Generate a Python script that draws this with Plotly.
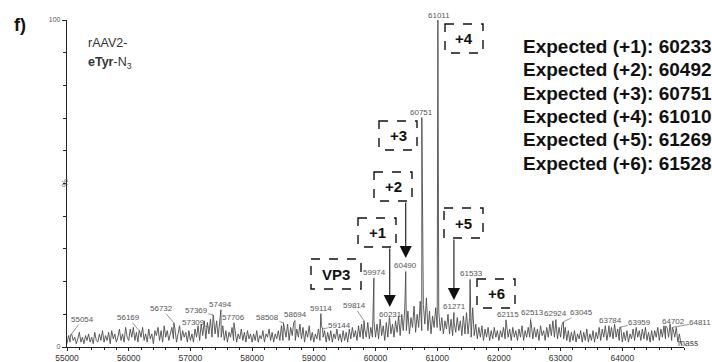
import plotly.graph_objects as go

# ---------------- data ----------------
# baseline noise of the deconvoluted spectrum, sampled every 25 Da from 55000
noise_start = 55000
noise_step = 25
noise_int = [
    1, 3.5, 1.5, 4, 2, 3, 1, 2.5, 4.5, 1.5, 3, 1, 3.5, 2, 4, 1.5, 3, 1, 4.5, 2,
    1.5, 4, 2, 5, 1.5, 3.5, 2, 4.5, 1, 5, 2.5, 4, 1.5, 3, 5.5, 2, 4, 1.5, 6, 3,
    2, 5.5, 3, 6, 2, 4.5, 1.5, 5, 3, 6, 2, 4, 1.5, 5.5, 2.5, 4, 1, 5, 3.5, 6,
    2, 5, 1.5, 6.5, 3, 5, 2, 4, 6, 2.5, 5.5, 1.5, 4, 6.5, 2, 5, 3, 4.5, 1.5, 5,
    2, 4, 1.5, 5.5, 3, 6.5, 2, 7, 3.5, 8, 2.5, 7.5, 4, 8.5, 3, 9, 4, 8, 3, 7,
    3, 6.5, 2, 5, 1.5, 4.5, 3, 6, 2, 5, 1.5, 4, 2.5, 5.5, 2, 4.5, 1.5, 5, 2.5, 4,
    1.5, 4, 2, 5, 1.5, 3.5, 2.5, 5, 1.5, 4, 3, 5.5, 2, 4.5, 1.5, 4, 2.5, 5, 2, 6.5,
    2, 5, 3, 7, 2, 6, 3.5, 7.5, 2, 5.5, 3, 7, 2.5, 6, 1.5, 5, 3, 6.5, 2, 4.5,
    1.5, 4, 2.5, 5.5, 2, 6.5, 3, 5, 1.5, 4.5, 2, 5, 1.5, 4, 2.5, 5.5, 2, 4, 1.5, 5,
    2, 4.5, 1.5, 5.5, 2.5, 6, 3, 5, 2, 6.5, 3, 7, 2.5, 5.5, 3, 7.5, 2.5, 6, 3, 8,
    3, 7, 2.5, 8.5, 3.5, 6.5, 2, 7.5, 3, 9, 4, 7, 3, 8, 4.5, 9.5, 3.5, 10, 5, 12,
    5, 11, 4, 9, 6, 12.5, 4.5, 10, 6, 14, 5, 13, 7, 15, 5, 11, 4, 9.5, 6, 12,
    6, 11, 5, 9, 4, 8, 5.5, 10, 4, 8.5, 3.5, 7.5, 4.5, 9, 5, 8, 3.5, 9.5, 4, 10.5,
    4, 9, 3, 12, 3.5, 7, 2.5, 6, 3, 6.5, 2, 5.5, 3, 6, 2, 5, 2.5, 6, 3, 5,
    2, 5, 3, 6, 2.5, 7, 3, 5.5, 2, 6, 3, 5, 2, 5.5, 3, 6.5, 2, 5, 3, 6,
    3, 7, 2.5, 6, 3, 5.5, 2, 6.5, 3.5, 5, 2, 6, 3, 7, 3.5, 8, 3, 7.5, 2.5, 6,
    3, 7, 2.5, 6, 2, 5, 1.5, 4.5, 2, 5, 1.5, 4, 2.5, 5, 1.5, 4.5, 2, 5.5, 1.5, 4,
    2, 5, 1.5, 4.5, 2.5, 6, 2, 5.5, 3, 6.5, 2, 5, 3, 6, 2.5, 7, 3, 5.5, 2, 6,
    1.5, 4.5, 2, 5, 1.5, 4, 2.5, 5.5, 2, 6, 3, 5, 2, 5.5, 2.5, 6, 2, 4.5, 1.5, 5,
    2, 5, 3, 6, 2, 5.5, 3, 6.5, 2.5, 6, 3, 7, 2, 5.5, 3, 6, 1.5, 4, 1, 0.5,
]

# labelled peaks (mass, relative intensity %)
peak_mass = [55054, 56169, 56732, 57309, 57369, 57494, 57706, 58508, 58694,
             59114, 59144, 59814, 59974, 60231, 60490, 60751, 61011, 61271,
             61533, 62115, 62513, 62924, 63045, 63784, 63959, 64702, 64811]
peak_int = [3.5, 5, 7.4, 6, 9.8, 11.3, 7.4, 7.4, 8,
            10.2, 5.5, 8, 21, 8.5, 23, 70.2, 100, 10.5,
            20.6, 8.3, 8.3, 8.3, 7.7, 6.4, 6, 6.4, 6]

# charge-state labels
charge_labels = ["VP3", "+1", "+2", "+3", "+4", "+5", "+6"]
expected_labels = ["+1", "+2", "+3", "+4", "+5", "+6"]
expected_mass = [60233, 60492, 60751, 61010, 61269, 61528]

x_ticks = [55000, 56000, 57000, 58000, 59000, 60000, 61000, 62000, 63000, 64000]
x_tick_text = [str(v) for v in x_ticks]

FONT = "Liberation Sans, Arial, sans-serif"

# ---------------- geometry helpers (layout only) ----------------
L, R, T, B = 67, 28, 20, 15
W, H = 712, 362
PW, PH = W - L - R, H - T - B


def px2x(px):
    return 55000 + (px - L) / PW * 10000


def py2y(py):
    return (H - B - py) / PH * 100


def pxp(px):
    return (px - L) / PW


def pyp(py):
    return (H - B - py) / PH


# merge noise + peaks into one profile line
pts = [(noise_start + i * noise_step, v) for i, v in enumerate(noise_int)]
pts += list(zip(peak_mass, peak_int))
pts.sort()
xs = [p[0] for p in pts]
ys = [p[1] for p in pts]

fig = go.Figure()
fig.add_trace(go.Scatter(x=xs, y=ys, mode="lines",
                         line=dict(color="#4d4d4d", width=0.9),
                         hoverinfo="skip", showlegend=False))

annotations = []
shapes = []

# peak labels (offsets in pixels)
label_offsets = [(12, -16), (-11, -13), (-12, -14), (-16, -5), (-17, -4),
                 (0, -6), (0, -5), (-16, -5), (1, -6), (0, -5), (17, -4),
                 (-10, -15), (1, -6), (1, -5), (0, -6), (0, -5), (1, -5),
                 (1, -6), (1, -6), (2, -5), (2, -7), (0, -6), (18, -9),
                 (2, -6), (20, -5), (8, -5), (28, -5)]
for m, v, (ax, ay) in zip(peak_mass, peak_int, label_offsets):
    annotations.append(dict(
        x=m, y=v, xref="x", yref="y", text=str(m), showarrow=True,
        arrowhead=0, arrowwidth=0.7, arrowcolor="#666", ax=ax, ay=ay,
        standoff=0, font=dict(family=FONT, size=8, color="#555"),
        borderpad=0))

# dashed boxes (pixel boxes) for charge states
boxes = {
    "VP3": (311, 361, 259, 289),
    "+1": (358, 396, 218, 247),
    "+2": (374, 412, 172, 201),
    "+3": (379, 417, 121, 150),
    "+4": (445, 483, 24, 53),
    "+5": (444, 483, 208, 238),
    "+6": (477, 515, 279, 308),
}
for lab in charge_labels:
    x0, x1, y0, y1 = boxes[lab]
    shapes.append(dict(type="rect", xref="x", yref="y",
                       x0=px2x(x0), x1=px2x(x1), y0=py2y(y0), y1=py2y(y1),
                       line=dict(color="#111", width=1.4, dash="dash")))
    annotations.append(dict(x=px2x((x0 + x1) / 2), y=py2y((y0 + y1) / 2),
                            xref="x", yref="y", text="<b>%s</b>" % lab,
                            showarrow=False,
                            font=dict(family=FONT, size=15, color="#111")))

# arrows from boxes to observed peaks
arrow_spec = [(60231, 247, 307), (60490, 201, 258), (61271, 238, 300)]
for m, ytail, ytip in arrow_spec:
    annotations.append(dict(x=m, y=py2y(ytip), ax=m, ay=py2y(ytail),
                            xref="x", yref="y", axref="x", ayref="y",
                            text="", showarrow=True, arrowhead=2,
                            arrowsize=2.2, arrowwidth=1.1, arrowcolor="#111",
                            standoff=0))

# expected masses text
exp_y = [46, 69, 93, 116, 139, 163]
for lab, em, py in zip(expected_labels, expected_mass, exp_y):
    annotations.append(dict(x=pxp(521), y=pyp(py), xref="paper", yref="paper",
                            xanchor="left", yanchor="middle",
                            text="<b>Expected (%s): %d</b>" % (lab, em),
                            showarrow=False,
                            font=dict(family=FONT, size=19, color="#111")))

# panel letter and sample name
annotations.append(dict(x=pxp(12), y=pyp(25), xref="paper", yref="paper",
                        xanchor="left", yanchor="middle", text="<b>f)</b>",
                        showarrow=False,
                        font=dict(family=FONT, size=18, color="#111")))
annotations.append(dict(x=pxp(86), y=pyp(43), xref="paper", yref="paper",
                        xanchor="left", yanchor="middle", text="rAAV2-",
                        showarrow=False,
                        font=dict(family=FONT, size=12.5, color="#333")))
annotations.append(dict(x=pxp(86), y=pyp(63), xref="paper", yref="paper",
                        xanchor="left", yanchor="middle",
                        text="<b>eTyr</b>-N<sub>3</sub>",
                        showarrow=False,
                        font=dict(family=FONT, size=12.5, color="#333")))
# axis extras
annotations.append(dict(x=pxp(58), y=pyp(183), xref="paper", yref="paper",
                        text="%", textangle=-90, showarrow=False,
                        font=dict(family=FONT, size=9, color="#666")))
annotations.append(dict(x=pxp(700), y=pyp(350), xref="paper", yref="paper",
                        text="mass", showarrow=False,
                        font=dict(family=FONT, size=8.5, color="#444")))

fig.update_layout(
    width=W, height=H,
    margin=dict(l=L, r=R, t=T, b=B),
    plot_bgcolor="white", paper_bgcolor="white",
    showlegend=False,
    font=dict(family=FONT),
    xaxis=dict(range=[55000, 65000], showgrid=False, zeroline=False,
               showline=True, linecolor="#222", linewidth=1,
               ticks="outside", ticklen=3, tickcolor="#222",
               tickmode="array", tickvals=x_ticks, ticktext=x_tick_text,
               tickfont=dict(family=FONT, size=8.5, color="#333"),
               minor=dict(tickmode="array",
                          tickvals=list(range(55000, 65001, 200)),
                          ticks="outside", ticklen=2, tickcolor="#222"),
               automargin=False),
    yaxis=dict(range=[0, 100], showgrid=False, zeroline=False,
               showline=True, linecolor="#222", linewidth=1.2,
               ticks="outside", ticklen=4, tickcolor="#222",
               tickmode="array", tickvals=[0, 100], ticktext=["0", "100"],
               tickfont=dict(family=FONT, size=7, color="#555"),
               minor=dict(tickmode="array",
                          tickvals=[10, 20, 30, 40, 50, 60, 70, 80, 90],
                          ticks="outside", ticklen=3, tickcolor="#222"),
               automargin=False),
    annotations=annotations,
    shapes=shapes,
)

fig.write_html("out.html",
               config={"displayModeBar": False},
               post_script="document.body.style.margin='0px';"
                           "document.body.style.overflow='hidden';")
